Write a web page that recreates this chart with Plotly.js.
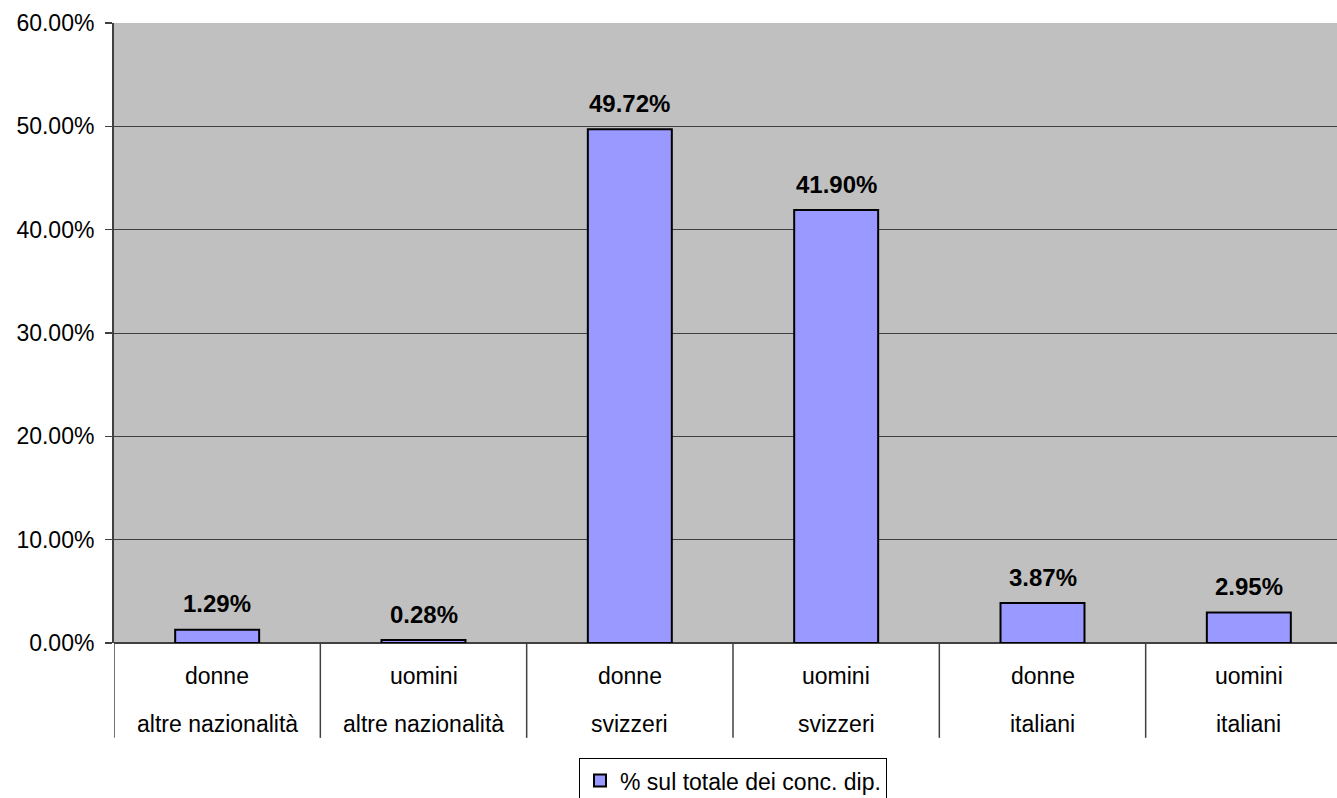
<!DOCTYPE html>
<html>
<head>
<meta charset="utf-8">
<script src="https://cdn.plot.ly/plotly-3.0.1.min.js"></script>
<style>html,body{margin:0;padding:0;background:#fff;overflow:hidden;}#chart{width:1352px;height:798px;}</style>
</head>
<body>
<div id="chart"></div>
<script>
const categories = ["dna", "una", "dsv", "usv", "dit", "uit"];
const genderLabels = ["donne", "uomini", "donne", "uomini", "donne", "uomini"];
const groupLabels = ["altre nazionalità", "altre nazionalità", "svizzeri", "svizzeri", "italiani", "italiani"];
const values = [0.0129, 0.0028, 0.4972, 0.4190, 0.0387, 0.0295];
const seriesName = "% sul totale dei conc. dip.";
const yTicks = [0, 0.1, 0.2, 0.3, 0.4, 0.5, 0.6];

const FONT = "Liberation Sans, Arial, sans-serif";

const annotations = [];
const shapes = [];
categories.forEach((c, i) => {
  annotations.push({x: c, y: values[i], xref: 'x', yref: 'y', text: '<b>' + (values[i]*100).toFixed(2) + '%</b>',
    showarrow: false, yanchor: 'middle', yshift: 26, font: {family: FONT, size: 24, color: '#000'}});
  annotations.push({x: c, y: -0.054, xref: 'x', yref: 'paper', text: genderLabels[i], showarrow: false,
    yanchor: 'middle', font: {family: FONT, size: 23, color: '#000'}});
  annotations.push({x: c, y: -0.13, xref: 'x', yref: 'paper', text: groupLabels[i], showarrow: false,
    yanchor: 'middle', font: {family: FONT, size: 23, color: '#000'}});
  shapes.push({type: 'line', xref: 'x', yref: 'paper', x0: i - 0.5, x1: i - 0.5, y0: 0, y1: -0.153,
    line: {color: '#404040', width: 1.5}});
});

const trace = {
  type: 'bar', x: categories, y: values, name: seriesName,
  marker: {color: '#9999FF', line: {color: '#000', width: 2}},
  showlegend: true, hoverinfo: 'none'
};

const layout = {
  width: 1352, height: 798,
  margin: {l: 114, r: 0, t: 23, b: 155, pad: 0},
  paper_bgcolor: '#fff', plot_bgcolor: '#C0C0C0',
  bargap: 0.593,
  font: {family: FONT, size: 23, color: '#000'},
  xaxis: {type: 'category', showticklabels: false, ticks: '', showgrid: false, zeroline: false,
    showline: false, range: [-0.5, 5.5], fixedrange: true},
  yaxis: {range: [0, 0.6], tickvals: yTicks, tickformat: '.2%', ticks: 'outside', ticklen: 7,
    tickcolor: '#404040', tickwidth: 1.5, showline: true, linecolor: '#404040', linewidth: 2,
    gridcolor: '#404040', gridwidth: 1, zeroline: true, zerolinecolor: '#404040', zerolinewidth: 1.5,
    tickfont: {family: FONT, size: 23, color: '#000'}, ticklabelstandoff: 6, fixedrange: true},
  showlegend: true,
  legend: {orientation: 'h', x: 0.5, xanchor: 'center', xref: 'paper', yref: 'container', y: 0.05, yanchor: 'top',
    bgcolor: '#fff', bordercolor: '#000', borderwidth: 1, itemwidth: 30,
    font: {family: FONT, size: 23, color: '#000'}},
  annotations: annotations, shapes: shapes
};

Plotly.newPlot('chart', [trace], layout, {displayModeBar: false, staticPlot: true});
</script>
</body>
</html>
